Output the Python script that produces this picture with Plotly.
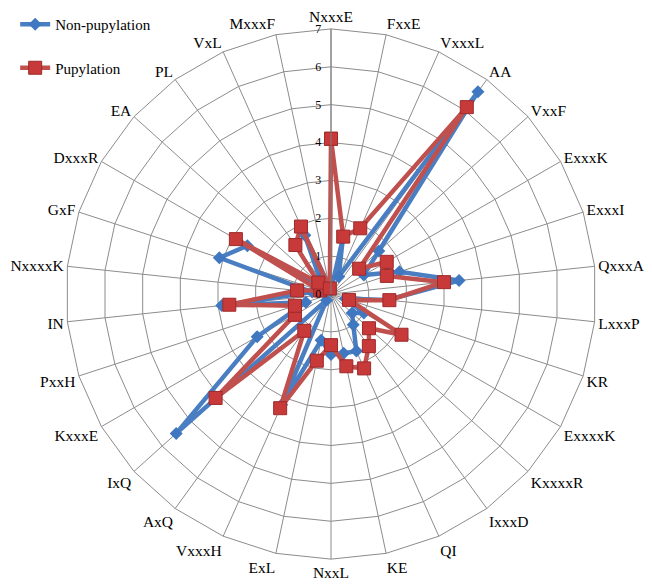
import plotly.graph_objects as go

categories = ["NxxxE", "FxxE", "VxxxL", "AA", "VxxF", "ExxxK", "ExxxI", "QxxxA", "LxxxP", "KR",
              "ExxxxK", "KxxxxR", "IxxxD", "QI", "KE", "NxxL", "ExL", "VxxxH", "AxQ", "IxQ",
              "KxxxE", "PxxH", "IN", "NxxxxK", "GxF", "DxxxR", "EA", "PL", "VxL", "MxxxF"]

non_pupylation = [0.1, 1.5, 0.5, 6.6, 1.7, 1.0, 1.9, 3.4, 1.5, 0.4,
                  1.0, 0.75, 1.0, 1.65, 1.6, 1.6, 1.25, 3.2, 0.2, 5.5,
                  2.25, 0.7, 2.9, 0.5, 3.1, 2.55, 0.3, 0.5, 1.7, 0.2]

pupylation = [4.1, 1.55, 1.9, 6.1, 1.0, 1.7, 1.55, 3.0, 1.55, 0.5,
              2.15, 1.35, 1.7, 2.15, 1.95, 1.35, 1.8, 3.3, 1.2, 4.1,
              1.1, 1.0, 2.7, 0.9, 0.3, 2.9, 0.45, 1.6, 1.95, 0.15]

radial_ticks = [0, 1, 2, 3, 4, 5, 6, 7]

serif = "Liberation Serif"

fig = go.Figure()
fig.add_trace(go.Scatterpolar(
    r=non_pupylation + non_pupylation[:1], theta=categories + categories[:1],
    name="Non-pupylation", mode="lines+markers", legendgroup="a",
    line=dict(color="#4A7EC2", width=4.5),
    marker=dict(symbol="diamond", size=10, color="#3F78C0"),
))
fig.add_trace(go.Scatterpolar(
    r=pupylation + pupylation[:1], theta=categories + categories[:1],
    name="Pupylation", mode="lines+markers", legendgroup="b",
    line=dict(color="#C0504D", width=4.5),
    marker=dict(symbol="square", size=13, color="#C8393A", line=dict(color="#9E2A2A", width=1)),
))

fig.update_layout(
    width=652, height=586,
    margin=dict(l=0, r=0, t=0, b=0),
    paper_bgcolor="white",
    font=dict(family=serif, size=15, color="black"),
    polar=dict(
        domain=dict(x=[0.0874, 0.9034], y=[0.0597, 0.9676]),
        bgcolor="white",
        gridshape="linear",
        angularaxis=dict(
            rotation=90, direction="clockwise",
            linecolor="#8c8c8c", linewidth=1,
            gridcolor="#8c8c8c", gridwidth=1,
            tickfont=dict(family=serif, size=15.5, color="black"),
            ticks="",
        ),
        radialaxis=dict(
            range=[0, 7], tickvals=radial_ticks,
            angle=90, tickangle=90, side="counterclockwise",
            gridcolor="#8c8c8c", gridwidth=1,
            linecolor="#7f7f7f", linewidth=1,
            showline=True, ticks="outside", ticklen=5, tickcolor="rgba(0,0,0,0)",
            tickfont=dict(family=serif, size=12, color="black"),
        ),
    ),
    legend=dict(
        x=0.011, y=1.004, xanchor="left", yanchor="top",
        font=dict(family=serif, size=15, color="black"),
        traceorder="grouped", tracegroupgap=21, itemwidth=30,
        bgcolor="rgba(0,0,0,0)",
    ),
)

fig.write_html("out.html")
